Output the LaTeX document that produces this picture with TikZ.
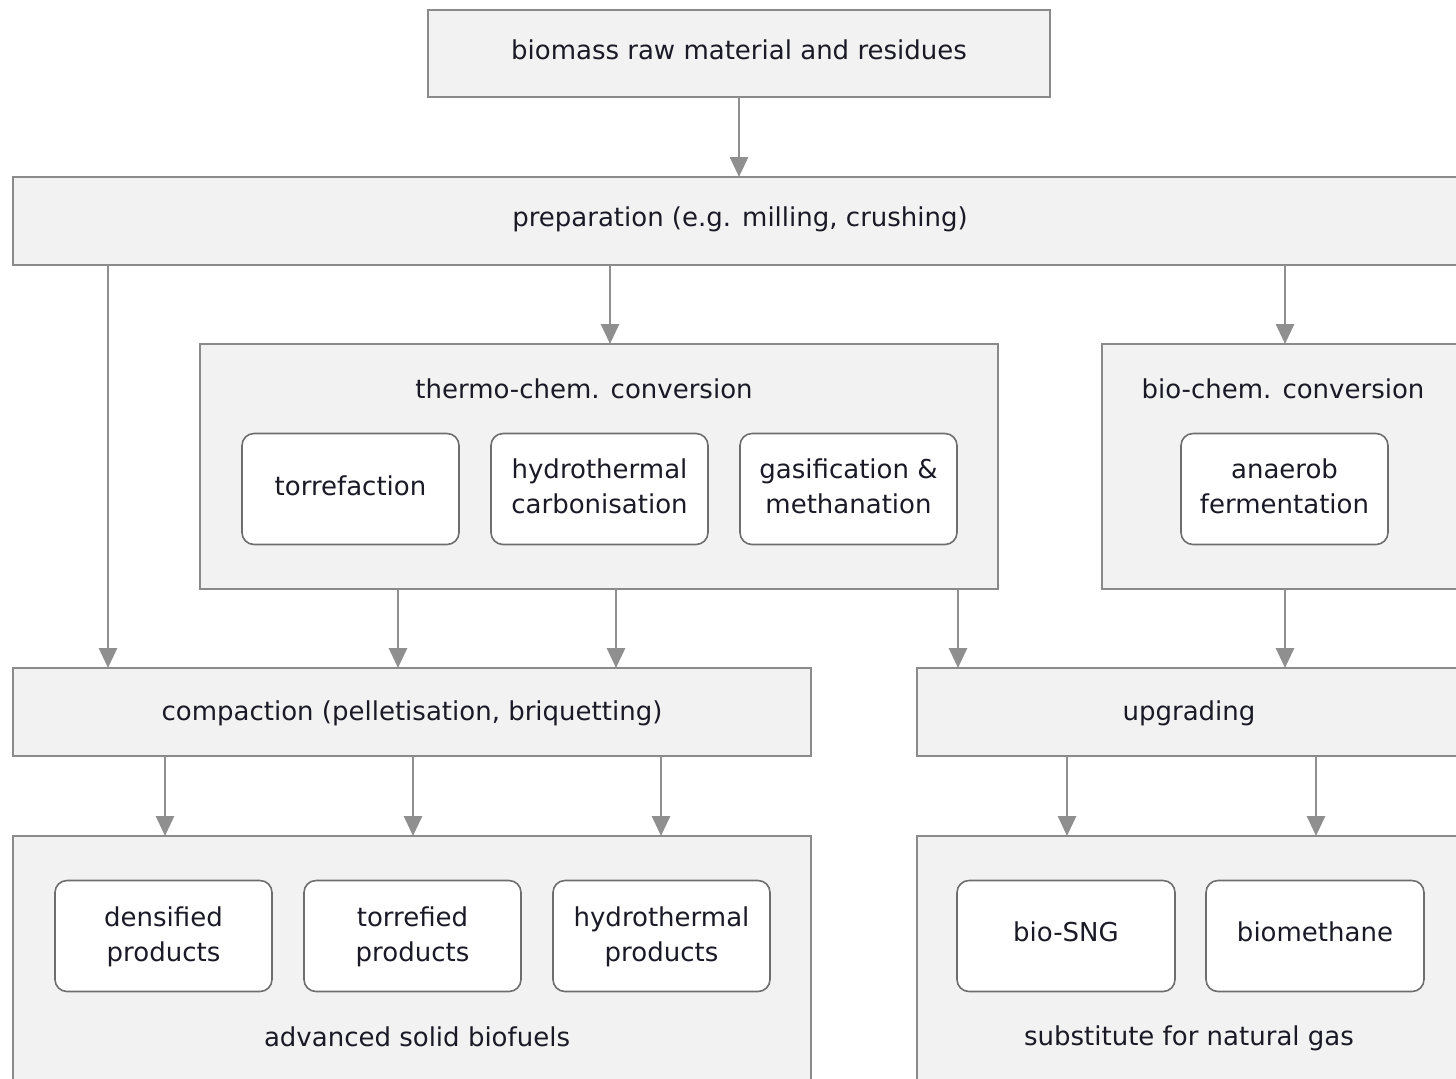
\documentclass[tikz,border=0pt]{standalone}
\usepackage{fontspec}
\setmainfont{DejaVu Sans}
\usetikzlibrary{arrows.meta}
\definecolor{boxfill}{HTML}{F2F2F2}
\definecolor{boxline}{HTML}{8A8A8A}
\definecolor{innerline}{HTML}{6E6E6E}
\definecolor{arrowgray}{HTML}{8F8F8F}
\definecolor{txt}{HTML}{1A1A26}
\begin{document}
\begin{tikzpicture}[x=0.5pt,y=-0.5pt,
 base/.style={text=txt, font=\fontsize{13}{17.5}\selectfont, align=center, inner sep=0pt, outer sep=0pt},
 outerbox/.style={base, draw=boxline, fill=boxfill, line width=1pt},
 innerbox/.style={base, draw=innerline, fill=white, line width=0.8pt, rounded corners=6pt, minimum width=108.5pt, minimum height=55.5pt},
 lbl/.style={base},
 arr/.style={draw=arrowgray, line width=1.4pt, -{Triangle[length=10pt,width=9pt]}}]
\useasboundingbox (0,0) rectangle (1456,1078);
\clip (0,0) rectangle (1456,1078);
\fill[white] (0,0) rectangle (1456,1078);

% outer boxes
\node[outerbox, minimum width=311pt, minimum height=43.5pt] (top) at (739,53.5) {};
\node[lbl] (toplbl) at (739,50) {biomass raw material and residues};
\node[outerbox, minimum width=727pt, minimum height=44pt] (prep) at (740,221) {};
\node[lbl] (preplbl) at (740,219) {preparation (e.g. milling, crushing)};

\node[outerbox, minimum width=399pt, minimum height=122.5pt] (thermo) at (599,466.5) {};
\node[lbl] (thermolbl) at (584,389) {thermo-chem. conversion};
\node[innerbox] (torr) at (350.5,489) {};
\node[lbl] (torrlbl) at (350.5,486) {torrefaction};
\node[innerbox] (htc) at (599.5,489) {};
\node[lbl] (htclbl) at (599.5,486) {hydrothermal\\carbonisation};
\node[innerbox] (gas) at (848.5,489) {};
\node[lbl] (gaslbl2) at (848.5,486) {gasification \&\\methanation};

\node[outerbox, minimum width=181pt, minimum height=122.5pt] (bio) at (1283,466.5) {};
\node[lbl] (biolbl) at (1283,389) {bio-chem. conversion};
\node[innerbox, minimum width=103.5pt] (ferm) at (1284.5,489) {};
\node[lbl] (fermlbl) at (1284.5,486) {anaerob\\fermentation};

\node[outerbox, minimum width=399pt, minimum height=44pt] (comp) at (412,712) {};
\node[lbl] (complbl) at (412,713) {compaction (pelletisation, briquetting)};
\node[outerbox, minimum width=272pt, minimum height=44pt] (upg) at (1189,712) {};
\node[lbl] (upglbl) at (1189,713) {upgrading};

\node[outerbox, minimum width=399pt, minimum height=132pt] (solid) at (412,968) {};
\node[innerbox] (dens) at (163.5,936) {};
\node[lbl] (denslbl) at (163.5,937) {densified\\products};
\node[innerbox] (torp) at (412.5,936) {};
\node[lbl] (torplbl) at (412.5,937) {torrefied\\products};
\node[innerbox] (hydp) at (661.5,936) {};
\node[lbl] (hydplbl) at (661.5,937) {hydrothermal\\products};
\node[lbl] (solidlbl) at (417,1037) {advanced solid biofuels};

\node[outerbox, minimum width=272pt, minimum height=132pt] (gasout) at (1189,968) {};
\node[innerbox, minimum width=109pt] (sng) at (1066,936) {};
\node[lbl] (snglbl) at (1066,932) {bio-SNG};
\node[innerbox, minimum width=109pt] (bme) at (1315,936) {};
\node[lbl] (bmelbl) at (1315,932) {biomethane};
\node[lbl] (gasoutlbl) at (1189,1038) {substitute for natural gas};

% x positions of connectors
\coordinate (xa) at (108,0);
\coordinate (xb) at (610,0);
\coordinate (xc) at (1285,0);
\coordinate (xd) at (398,0);
\coordinate (xe) at (616,0);
\coordinate (xf) at (958,0);
\coordinate (xg) at (165,0);
\coordinate (xh) at (413,0);
\coordinate (xi) at (661,0);
\coordinate (xj) at (1067,0);
\coordinate (xk) at (1316,0);

% connectors
\draw[arr] (top.south) -- (prep.north -| top.south);
\draw[arr] (prep.south -| xa) -- (comp.north -| xa);
\draw[arr] (prep.south -| xb) -- (thermo.north -| xb);
\draw[arr] (prep.south -| xc) -- (bio.north -| xc);
\draw[arr] (thermo.south -| xd) -- (comp.north -| xd);
\draw[arr] (thermo.south -| xe) -- (comp.north -| xe);
\draw[arr] (thermo.south -| xf) -- (upg.north -| xf);
\draw[arr] (bio.south -| xc) -- (upg.north -| xc);
\draw[arr] (comp.south -| xg) -- (solid.north -| xg);
\draw[arr] (comp.south -| xh) -- (solid.north -| xh);
\draw[arr] (comp.south -| xi) -- (solid.north -| xi);
\draw[arr] (upg.south -| xj) -- (gasout.north -| xj);
\draw[arr] (upg.south -| xk) -- (gasout.north -| xk);
\end{tikzpicture}
\end{document}
